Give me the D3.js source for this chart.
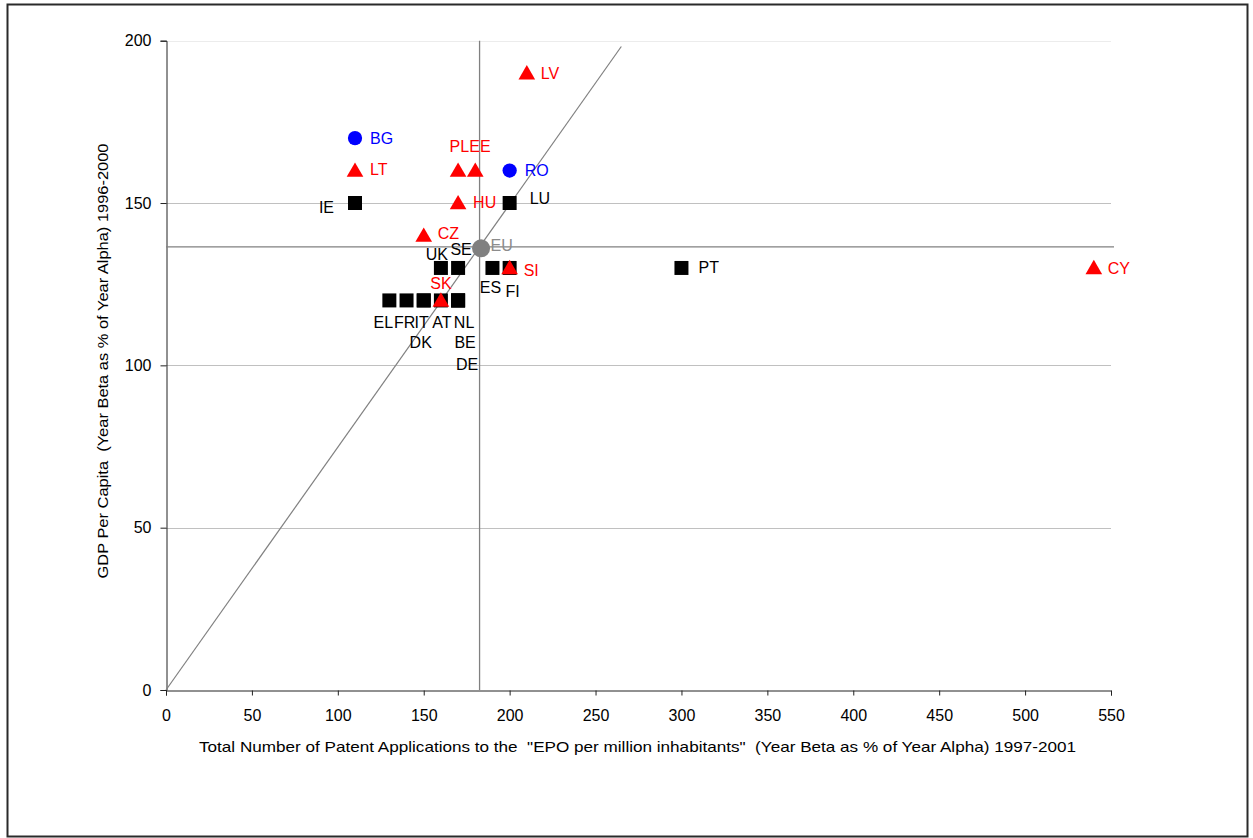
<!DOCTYPE html>
<html>
<head>
<meta charset="utf-8">
<script src="https://cdn.jsdelivr.net/npm/d3@7"></script>
<style>
  body { margin: 0; background: #fff; }
  svg { display: block; font-family: "Liberation Sans", Arial, sans-serif; }
</style>
</head>
<body>
<svg id="chart" width="1253" height="838"></svg>
<script>
// ---- data ----
const countries = ["IE","LU","UK","SE","ES","FI","PT","EL","FR","IT","DK","AT","NL","BE","DE",
                   "LV","LT","PL","EE","HU","CZ","SK","SI","CY","BG","RO"];
const patents   = [110,200,160,170,190,200,300,130,140,150,150,160,170,170,170,
                   210,110,170,180,170,150,160,200,540,110,200];
const gdpGrowth = [150,150,130,130,130,130,130,120,120,120,120,120,120,120,120,
                   190,160,160,160,150,140,120,130,130,170,160];
const groups    = ["EU15","EU15","EU15","EU15","EU15","EU15","EU15","EU15","EU15","EU15","EU15","EU15","EU15","EU15","EU15",
                   "NMS","NMS","NMS","NMS","NMS","NMS","NMS","NMS","NMS","CC","CC"];
const euAverage = { patents: 182.5, gdp: 136.5 };
const xTicks = [0,50,100,150,200,250,300,350,400,450,500,550];
const yTicks = [0,50,100,150,200];
const xTitle = 'Total Number of Patent Applications to the  "EPO per million inhabitants"  (Year Beta as % of Year Alpha) 1997-2001';
const yTitle = 'GDP Per Capita  (Year Beta as % of Year Alpha) 1996-2000';

// ---- layout / style (not data) ----
const groupStyle = {
  EU15: { color: "#000000", shape: d3.symbolSquare, size: 196 },
  NMS:  { color: "#ff0000", shape: d3.symbolTriangle, size: 120 },
  CC:   { color: "#0000ff", shape: d3.symbolCircle, size: 160 }
};
// label offsets relative to marker centre: [dx, dy, anchor]
const labelPlace = {
  IE:[-21,4,"end"], LU:[20,-5,"start"], UK:[-4,-14,"middle"], SE:[3,-19,"middle"],
  ES:[-2,19,"middle"], FI:[3,23,"middle"], PT:[17,-1,"start"], EL:[-6,22,"middle"],
  FR:[-2,22,"middle"], IT:[-2,22,"middle"], DK:[-3,42,"middle"], AT:[1,22,"middle"],
  NL:[6,22,"middle"], BE:[7,42,"middle"], DE:[9,64,"middle"],
  LV:[14,0,"start"], LT:[15,-1,"start"], PL:[11,-24,"end"], EE:[-6,-24,"start"],
  HU:[15,-1,"start"], CZ:[14,-2,"start"], SK:[0,-17,"middle"], SI:[14,2,"start"],
  CY:[14,0,"start"], BG:[15,0,"start"], RO:[15,0,"start"]
};

const svg = d3.select("#chart");
const plot = { left: 166, right: 1111, top: 40.7, bottom: 690 };

const x = d3.scaleLinear().domain([0, 550]).range([plot.left, plot.right]);
const y = d3.scaleLinear().domain([0, 200]).range([plot.bottom, plot.top]);

// outer frame
svg.append("rect").attr("x", 7.5).attr("y", 4.5).attr("width", 1240).attr("height", 832)
  .attr("fill", "none").attr("stroke", "#2a2a2a").attr("stroke-width", 2);

// gridlines
svg.append("g").selectAll("line").data(yTicks.filter(d => d > 0)).join("line")
  .attr("x1", plot.left).attr("x2", plot.right)
  .attr("y1", d => Math.round(y(d)) + 0.5).attr("y2", d => Math.round(y(d)) + 0.5)
  .attr("stroke", d => d === 200 ? "#ececec" : "#c0c0c0").attr("stroke-width", 1);

// axes
const xAxis = svg.append("g").attr("transform", `translate(0,${plot.bottom + 0.5})`)
  .call(d3.axisBottom(x).tickValues(xTicks).tickSize(5).tickPadding(14));
const yAxis = svg.append("g").attr("transform", `translate(${plot.left + 0.5},0)`)
  .call(d3.axisLeft(y).tickValues(yTicks).tickSize(6).tickPadding(9));
[xAxis, yAxis].forEach(a => {
  a.select(".domain").attr("stroke", "#222");
  a.selectAll(".tick line").attr("stroke", "#222");
  a.selectAll(".tick text").attr("font-size", 16).attr("fill", "#000")
    .attr("font-family", '"Liberation Sans", Arial, sans-serif');
});

// EU average lines
svg.append("line")
  .attr("x1", x(euAverage.patents)).attr("x2", x(euAverage.patents))
  .attr("y1", y(200)).attr("y2", y(0))
  .attr("stroke", "#808080").attr("stroke-width", 1.3);
svg.append("line")
  .attr("x1", x(0)).attr("x2", x(550) + 3)
  .attr("y1", y(euAverage.gdp)).attr("y2", y(euAverage.gdp))
  .attr("stroke", "#808080").attr("stroke-width", 1.3);
// diagonal through origin and EU average
const diagEndX = 265;
svg.append("line")
  .attr("x1", x(0)).attr("y1", y(0))
  .attr("x2", x(diagEndX)).attr("y2", y(diagEndX * euAverage.gdp / euAverage.patents))
  .attr("stroke", "#808080").attr("stroke-width", 1.2);

// points
const pts = countries.map((c, i) => ({ c, px: patents[i], gy: gdpGrowth[i], g: groups[i] }));
const order = ["EU15", "CC", "NMS"];
const sorted = pts.slice().sort((a, b) => order.indexOf(a.g) - order.indexOf(b.g));
svg.append("g").selectAll("path").data(sorted).join("path")
  .attr("transform", d => `translate(${x(d.px)},${y(d.gy) + (d.g === "NMS" ? 1.5 : 0)})`)
  .attr("d", d => d3.symbol().type(groupStyle[d.g].shape).size(groupStyle[d.g].size)())
  .attr("fill", d => groupStyle[d.g].color);

// EU point
svg.append("circle").attr("cx", x(euAverage.patents) + 1.5).attr("cy", y(euAverage.gdp) + 1.5)
  .attr("r", 9).attr("fill", "#808080");
svg.append("text").attr("x", x(euAverage.patents) + 11).attr("y", y(euAverage.gdp) - 1)
  .attr("dy", "0.35em").attr("font-size", 16).attr("fill", "#8c8c8c").text("EU");

// labels
svg.append("g").selectAll("text").data(pts).join("text")
  .attr("x", d => x(d.px) + labelPlace[d.c][0])
  .attr("y", d => y(d.gy) + labelPlace[d.c][1])
  .attr("dy", "0.35em")
  .attr("text-anchor", d => labelPlace[d.c][2])
  .attr("font-size", 16)
  .attr("fill", d => groupStyle[d.g].color)
  .text(d => d.c);

// axis titles
svg.append("text").attr("x", 637.5).attr("y", 747).attr("dy", "0.35em")
  .attr("text-anchor", "middle").attr("font-size", 15)
  .attr("textLength", 877).attr("lengthAdjust", "spacingAndGlyphs")
  .style("white-space", "pre").text(xTitle);
svg.append("text").attr("transform", "translate(103,361) rotate(-90)")
  .attr("dy", "0.35em").attr("text-anchor", "middle").attr("font-size", 15)
  .attr("textLength", 435).attr("lengthAdjust", "spacingAndGlyphs")
  .style("white-space", "pre").text(yTitle);
</script>
</body>
</html>
